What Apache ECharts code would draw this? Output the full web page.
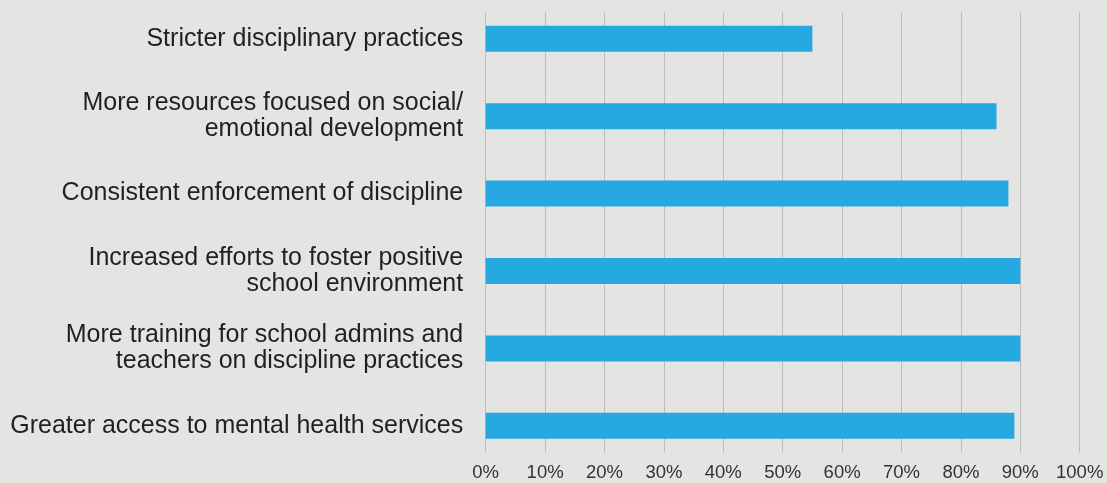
<!DOCTYPE html>
<html>
<head>
<meta charset="utf-8">
<style>
  html, body { margin: 0; padding: 0; background: #e4e4e2; }
  #chart { width: 1107px; height: 483px; }
</style>
<script src="https://cdn.jsdelivr.net/npm/echarts@6/dist/echarts.min.js"></script>
</head>
<body>
<div id="chart"></div>
<script>
const categories = [
  "Stricter disciplinary practices",
  "More resources focused on social/\nemotional development",
  "Consistent enforcement of discipline",
  "Increased efforts to foster positive\nschool environment",
  "More training for school admins and\nteachers on discipline practices",
  "Greater access to mental health services"
];
const values = [55, 86, 88, 90, 90, 89];
const tickMin = 0, tickMax = 100, tickStep = 10;

const chart = echarts.init(document.getElementById('chart'), null, { renderer: 'canvas' });
const FONT = '"Liberation Sans", Arial, sans-serif';
const L = 485.7, R = 1107 - 1079.7;

chart.setOption({
  backgroundColor: '#e4e4e2',
  animation: false,
  grid: [
    { left: L, right: R, top: 12, bottom: 483 - 452.7 },
    { left: L, right: R, top: -0.8, bottom: 483 - 464.5 }
  ],
  xAxis: [
    {
      gridIndex: 0, type: 'value', min: tickMin, max: tickMax, interval: tickStep,
      axisLine: { show: false }, axisTick: { show: false },
      splitLine: { show: true, lineStyle: { color: '#bcbcba', width: 1 } },
      axisLabel: { formatter: '{value}%', color: '#333333', fontSize: 18.5, fontFamily: FONT, margin: 11 }
    },
    {
      gridIndex: 1, type: 'value', min: tickMin, max: tickMax, interval: tickStep, show: false
    }
  ],
  yAxis: [
    { gridIndex: 0, type: 'category', data: categories, inverse: true, show: false },
    {
      gridIndex: 1, type: 'category', data: categories, inverse: true,
      axisLine: { show: false }, axisTick: { show: false }, splitLine: { show: false },
      axisLabel: {
        color: '#231f20', fontSize: 25, fontFamily: FONT, margin: 22.5,
        align: 'right', lineHeight: 26
      }
    }
  ],
  series: [
    {
      type: 'bar', xAxisIndex: 1, yAxisIndex: 1, data: values,
      barWidth: 26, itemStyle: { color: '#25a9e0' }
    }
  ]
});
</script>
</body>
</html>
